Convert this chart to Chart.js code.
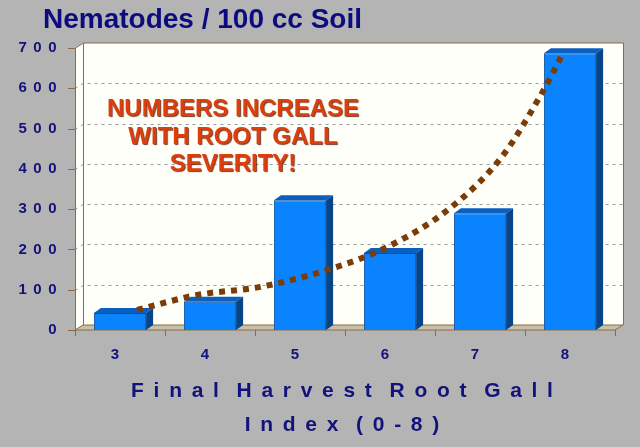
<!DOCTYPE html>
<html>
<head>
<meta charset="utf-8">
<script src="https://cdn.jsdelivr.net/npm/chart.js@4.4.0/dist/chart.umd.min.js"></script>
<style>
  html, body { margin: 0; padding: 0; background: #b4b4b4; }
</style>
</head>
<body>
<canvas id="myChart" width="640" height="447"></canvas>
<script>

var gallIndex = ['3', '4', '5', '6', '7', '8'];
var nematodes = [42, 70, 322, 191, 290, 687];

// dotted trend curve (x in category units, 0 = index 3)
var trendX = [0.19, 0.86, 1.56, 2.33, 2.97, 3.67, 4.24, 4.67, 4.93];
var trendY = [50, 87, 107, 151, 206, 303, 429, 581, 690];

var yTicks = [0, 100, 200, 300, 400, 500, 600, 700];

var titleText = 'Nematodes / 100 cc Soil';
var noteLines = ['NUMBERS INCREASE', 'WITH ROOT GALL', 'SEVERITY!'];
var axisTitle = ['Final Harvest Root Gall', 'Index (0-8)'];

var FONT = '"Liberation Sans", Arial, sans-serif';
var NAVY = '#12127a';
var EDGE = '#8a6c44';
var DX = 8, DY = -5;

function drawSpaced(ctx, text, cx, y, ls, spaceAdv) {
    var widths = [];
    var total = 0;
    for (var i = 0; i < text.length; i++) {
        var w = text[i] === ' ' ? spaceAdv : ctx.measureText(text[i]).width + ls;
        widths.push(w);
        total += w;
    }
    total -= ls;
    var x = cx - total / 2;
    for (var j = 0; j < text.length; j++) {
        if (text[j] !== ' ') ctx.fillText(text[j], x, y);
        x += widths[j];
    }
}

var walls = {
    id: 'walls',
    beforeDraw: function (chart) {
        var ctx = chart.ctx;
        var a = chart.chartArea;
        var ys = chart.scales.y;
        ctx.save();
        ctx.fillStyle = '#b4b4b4';
        ctx.fillRect(0, 0, chart.width, chart.height);

        var top = ys.getPixelForValue(700);
        // back wall
        ctx.fillStyle = '#fffffa';
        ctx.fillRect(a.left + DX, top + DY, a.right - a.left, a.bottom - top);
        // left wall
        ctx.beginPath();
        ctx.moveTo(a.left, a.bottom);
        ctx.lineTo(a.left + DX, a.bottom + DY);
        ctx.lineTo(a.left + DX, top + DY);
        ctx.lineTo(a.left, top);
        ctx.closePath();
        ctx.fill();

        // grid lines on walls
        ctx.strokeStyle = '#9a9a9a';
        ctx.lineWidth = 1;
        ctx.setLineDash([3, 4]);
        for (var i = 1; i < yTicks.length - 1; i++) {
            var gy = Math.round(ys.getPixelForValue(yTicks[i])) + 0.5;
            ctx.beginPath();
            ctx.moveTo(a.left, gy);
            ctx.lineTo(a.left + DX, gy + DY);
            ctx.lineTo(a.right + DX, gy + DY);
            ctx.stroke();
        }
        ctx.setLineDash([]);

        // floor
        ctx.fillStyle = '#c9bfad';
        ctx.beginPath();
        ctx.moveTo(a.left, a.bottom);
        ctx.lineTo(a.right, a.bottom);
        ctx.lineTo(a.right + DX, a.bottom + DY);
        ctx.lineTo(a.left + DX, a.bottom + DY);
        ctx.closePath();
        ctx.fill();

        ctx.strokeStyle = EDGE;
        ctx.stroke();
        // wall edges
        ctx.beginPath();
        ctx.moveTo(a.left + 0.5, a.bottom);
        ctx.lineTo(a.left + 0.5, top);
        ctx.lineTo(a.left + DX + 0.5, top + DY);
        ctx.lineTo(a.right + DX + 0.5, top + DY);
        ctx.lineTo(a.right + DX + 0.5, a.bottom + DY);
        ctx.moveTo(a.left + DX + 0.5, top + DY);
        ctx.lineTo(a.left + DX + 0.5, a.bottom + DY);
        ctx.stroke();

        // tick marks
        ctx.beginPath();
        for (var k = 0; k < yTicks.length; k++) {
            var ty = Math.round(ys.getPixelForValue(yTicks[k])) + 0.5;
            ctx.moveTo(a.left - 7, ty);
            ctx.lineTo(a.left, ty);
        }
        var step = (a.right - a.left) / gallIndex.length;
        for (var m = 0; m <= gallIndex.length; m++) {
            var tx = Math.round(a.left + m * step) + 0.5;
            ctx.moveTo(tx, a.bottom);
            ctx.lineTo(tx, a.bottom + 6);
        }
        ctx.stroke();
        ctx.restore();

        // spaced-out digits for the value axis labels
        ctx.letterSpacing = '6.5px';
    },
    beforeDatasetsDraw: function (chart) {
        chart.ctx.letterSpacing = '0px';
    },
    afterDatasetDraw: function (chart, args) {
        if (args.meta.type !== 'bar') return;
        var ctx = chart.ctx;
        var bx = 7, by = -5;
        ctx.save();
        args.meta.data.forEach(function (bar) {
            var l = bar.x - bar.width / 2, r = bar.x + bar.width / 2;
            var t = bar.y, b = bar.base;
            ctx.fillStyle = '#0b5fbf';
            ctx.beginPath();
            ctx.moveTo(l, t);
            ctx.lineTo(l + bx, t + by);
            ctx.lineTo(r + bx, t + by);
            ctx.lineTo(r, t);
            ctx.closePath();
            ctx.fill();
            ctx.fillStyle = '#064589';
            ctx.beginPath();
            ctx.moveTo(r, t);
            ctx.lineTo(r + bx, t + by);
            ctx.lineTo(r + bx, b + by);
            ctx.lineTo(r, b);
            ctx.closePath();
            ctx.fill();
        });
        ctx.restore();
    },
    afterDraw: function (chart) {
        var ctx = chart.ctx;
        var a = chart.chartArea;
        ctx.save();
        ctx.letterSpacing = '0px';
        ctx.textBaseline = 'alphabetic';

        ctx.fillStyle = '#0c0c7e';
        ctx.font = 'bold 28px ' + FONT;
        ctx.textAlign = 'left';
        ctx.fillText(titleText, 43, 28);

        ctx.font = 'bold 24px ' + FONT;
        ctx.textAlign = 'center';
        ctx.shadowColor = 'rgba(100,25,0,0.85)';
        ctx.shadowOffsetX = 1;
        ctx.shadowOffsetY = 1;
        ctx.shadowBlur = 1;
        ctx.fillStyle = '#dc3f0c';
        var base = [116, 144, 171];
        noteLines.forEach(function (s, i) { ctx.fillText(s, 233, base[i]); });
        ctx.shadowColor = 'transparent';

        ctx.font = 'bold 21px ' + FONT;
        ctx.textAlign = 'left';
        ctx.fillStyle = NAVY;
        var cx = (a.left + a.right) / 2 - 3;
        drawSpaced(ctx, axisTitle[0], cx, 397, 9.7, 8);
        drawSpaced(ctx, axisTitle[1], cx, 431, 9.7, 8);
        ctx.restore();
    }
};

var ctx = document.getElementById('myChart').getContext('2d');
var myChart = new Chart(ctx, {
    type: 'bar',
    data: {
        labels: gallIndex,
        datasets: [
            {
                type: 'line',
                label: 'Trend',
                data: trendX.map(function (x, i) { return { x: x, y: trendY[i] }; }),
                xAxisID: 'xt',
                borderColor: '#7b3d08',
                borderWidth: 6,
                borderDash: [6, 6],
                borderCapStyle: 'butt',
                pointRadius: 0,
                cubicInterpolationMode: 'monotone',
                fill: false,
                order: 0
            },
            {
                type: 'bar',
                label: 'Nematodes',
                data: nematodes,
                backgroundColor: '#0a83ff',
                borderColor: '#0a4f9c',
                borderWidth: 1,
                barPercentage: 0.58,
                categoryPercentage: 1,
                grouped: false,
                order: 1
            }
        ]
    },
    options: {
        responsive: false,
        animation: false,
        devicePixelRatio: 1,
        layout: { autoPadding: false, padding: { left: 0, right: 25, top: 48, bottom: 0 } },
        plugins: { legend: { display: false }, tooltip: { enabled: false }, title: { display: false } },
        scales: {
            x: {
                grid: { display: false, drawTicks: false },
                border: { display: false },
                ticks: {
                    color: NAVY,
                    font: { family: FONT, size: 15, weight: 'bold' },
                    padding: 16,
                    labelOffset: -5,
                    z: 1
                },
                afterFit: function (s) { s.height = 117; }
            },
            xt: { type: 'linear', min: -0.5, max: 5.5, offset: false, display: false },
            y: {
                min: 0,
                max: 700,
                grid: { display: false, drawTicks: false },
                border: { display: false },
                ticks: {
                    color: NAVY,
                    font: { family: FONT, size: 15, weight: 'bold' },
                    padding: 12
                },
                afterBuildTicks: function (s) { s.ticks = yTicks.map(function (v) { return { value: v }; }); },
                afterFit: function (s) { s.width = 75; }
            }
        }
    },
    plugins: [walls]
});

</script>
</body>
</html>
